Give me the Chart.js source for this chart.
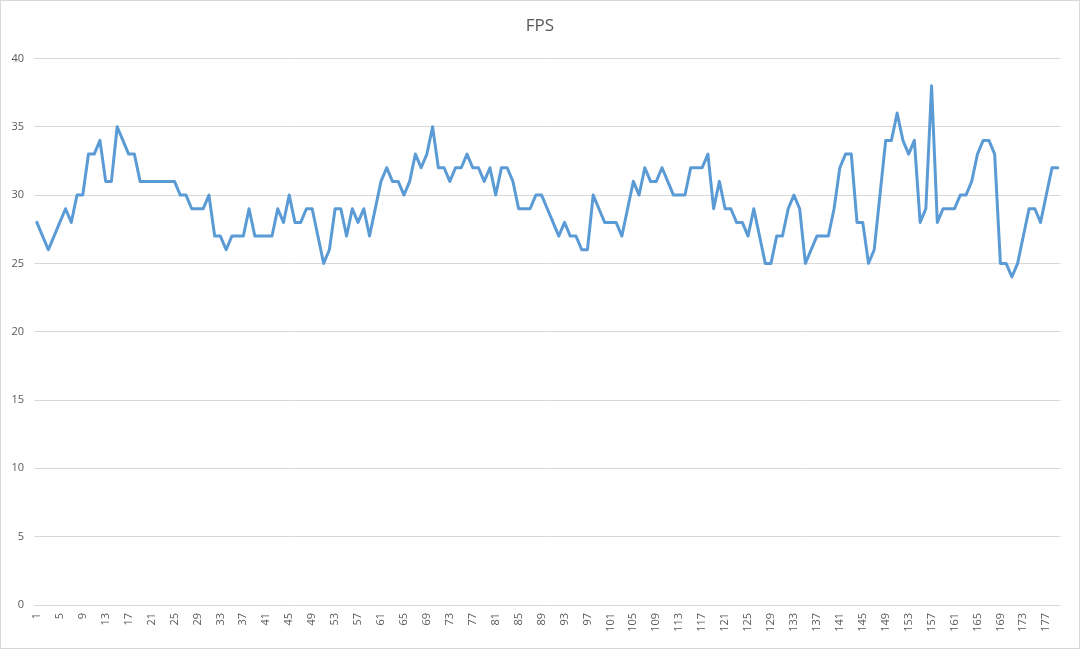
<!DOCTYPE html>
<html>
<head>
<meta charset="utf-8">
<script src="https://cdn.jsdelivr.net/npm/chart.js@4.4.1/dist/chart.umd.min.js"></script>
<style>
  html, body { margin: 0; padding: 0; background: #fff; }
  #wrap { width: 1080px; height: 649px; box-sizing: border-box; border: 1px solid #d9d9d9; }
  #chart { display: block; }
</style>
</head>
<body>
<div id="wrap"><canvas id="chart" width="1078" height="647"></canvas></div>
<script>
  'use strict';

  // FPS readings, one per sample (1..179)
  const fpsValues = [
    28, 27, 26, 27, 28, 29, 28, 30, 30, 33, 33, 34, 31, 31, 35, 34, 33, 33, 31, 31,
    31, 31, 31, 31, 31, 30, 30, 29, 29, 29, 30, 27, 27, 26, 27, 27, 27, 29, 27, 27,
    27, 27, 29, 28, 30, 28, 28, 29, 29, 27, 25, 26, 29, 29, 27, 29, 28, 29, 27, 29,
    31, 32, 31, 31, 30, 31, 33, 32, 33, 35, 32, 32, 31, 32, 32, 33, 32, 32, 31, 32,
    30, 32, 32, 31, 29, 29, 29, 30, 30, 29, 28, 27, 28, 27, 27, 26, 26, 30, 29, 28,
    28, 28, 27, 29, 31, 30, 32, 31, 31, 32, 31, 30, 30, 30, 32, 32, 32, 33, 29, 31,
    29, 29, 28, 28, 27, 29, 27, 25, 25, 27, 27, 29, 30, 29, 25, 26, 27, 27, 27, 29,
    32, 33, 33, 28, 28, 25, 26, 30, 34, 34, 36, 34, 33, 34, 28, 29, 38, 28, 29, 29,
    29, 30, 30, 31, 33, 34, 34, 33, 25, 25, 24, 25, 27, 29, 29, 28, 30, 32, 32
  ];

  // category labels 1..N, only every 4th is shown on the axis
  const sampleLabels = fpsValues.map((v, i) => String(i + 1));
  const labelStep = 4;

  const yMin = 0;
  const yMax = 40;
  const yStep = 5;

  const textColor = '#595959';
  const gridColor = '#d9d9d9';
  const lineColor = '#5b9bd5';

  new Chart(document.getElementById('chart'), {
    type: 'line',
    data: {
      labels: sampleLabels,
      datasets: [{
        label: 'FPS',
        data: fpsValues,
        borderColor: lineColor,
        backgroundColor: lineColor,
        borderWidth: 3,
        pointRadius: 0,
        tension: 0,
        borderJoinStyle: 'round',
        borderCapStyle: 'round'
      }]
    },
    options: {
      responsive: false,
      animation: false,
      layout: { padding: 0 },
      plugins: {
        legend: { display: false },
        tooltip: { enabled: false },
        title: {
          display: true,
          text: 'FPS',
          color: textColor,
          font: { family: 'Open Sans', size: 17, weight: 'normal' },
          padding: { top: 15, bottom: 22 }
        }
      },
      scales: {
        x: {
          offset: true,
          grid: { display: false, drawTicks: false },
          border: { display: false },
          afterFit: (scale) => { scale.height = 43; },
          ticks: {
            autoSkip: false,
            minRotation: 90,
            maxRotation: 90,
            padding: 8,
            color: textColor,
            font: { family: 'Open Sans', size: 11 },
            callback: function(value, index) {
              return index % labelStep === 0 ? this.getLabelForValue(value) : '';
            }
          }
        },
        y: {
          min: yMin,
          max: yMax,
          grid: { color: gridColor, lineWidth: 1, drawTicks: false },
          border: { display: false },
          afterFit: (scale) => { scale.width = 33; },
          ticks: {
            stepSize: yStep,
            padding: 10,
            color: textColor,
            font: { family: 'Open Sans', size: 11 }
          }
        },
        // empty right margin so the title stays centred on the whole chart
        yRight: {
          position: 'right',
          grid: { display: false, drawTicks: false },
          border: { display: false },
          ticks: { display: false },
          afterFit: (scale) => { scale.width = 17; }
        }
      }
    }
  });
</script>
</body>
</html>
